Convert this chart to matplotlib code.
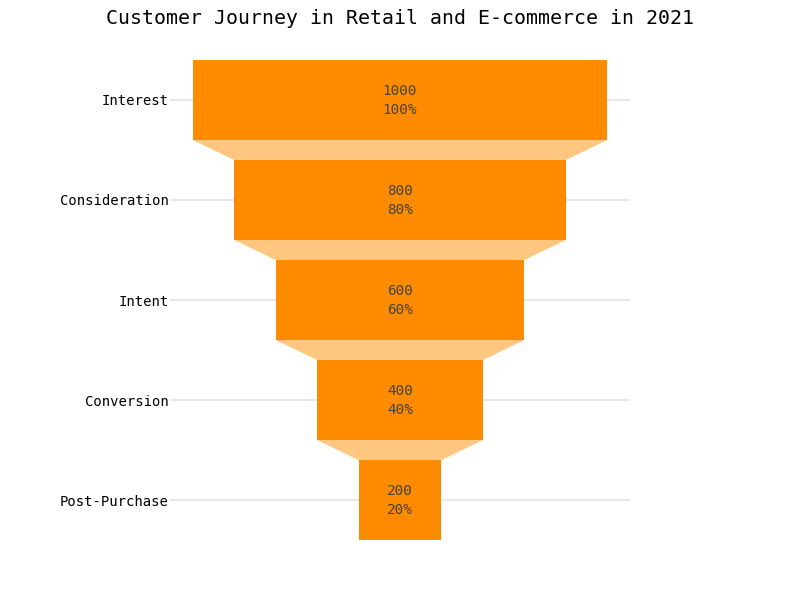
import matplotlib.pyplot as plt
from matplotlib.patches import Polygon

stages = ['Interest', 'Consideration', 'Intent', 'Conversion', 'Post-Purchase']
values = [1000, 800, 600, 400, 200]

bar_color = '#FF8C00'
conn_color = '#FFC680'
text_color = '#444444'

plt.rcParams['font.family'] = ['DejaVu Sans Mono']

fig = plt.figure(figsize=(8, 6), dpi=100)
ax = fig.add_axes([0.2125, 0.0833, 0.575, 0.8334])

ys = list(range(len(stages)))
h = 0.8
ax.barh(ys, values, left=[-v / 2 for v in values], height=h, color=bar_color, zorder=2)

# connectors between bars
for i in range(len(values) - 1):
    a, b = values[i] / 2, values[i + 1] / 2
    y0, y1 = ys[i] + h / 2, ys[i + 1] - h / 2
    poly = Polygon([(-a, y0), (a, y0), (b, y1), (-b, y1)], closed=True,
                   facecolor=conn_color, edgecolor='none', zorder=1)
    ax.add_patch(poly)

for y, v in zip(ys, values):
    pct = round(v / values[0] * 100)
    ax.text(0, y + 0.005, f'{v}\n{pct}%', ha='center', va='center', fontsize=10.4,
            color=text_color, linespacing=1.42, zorder=3)

ax.set_xlim(-555, 555)
ax.set_ylim(len(stages) - 0.5, -0.5)
ax.set_yticks(ys)
ax.set_yticklabels(stages, fontsize=10)
ax.set_xticks([])
ax.tick_params(axis='y', length=0, pad=1)
ax.grid(axis='y', color='#e5e5e5', linewidth=1.2, zorder=0)
ax.set_axisbelow(True)
for s in ax.spines.values():
    s.set_visible(False)

fig.suptitle('Customer Journey in Retail and E-commerce in 2021', fontsize=14.3, y=0.985)

fig.savefig('out.png', dpi=100)
